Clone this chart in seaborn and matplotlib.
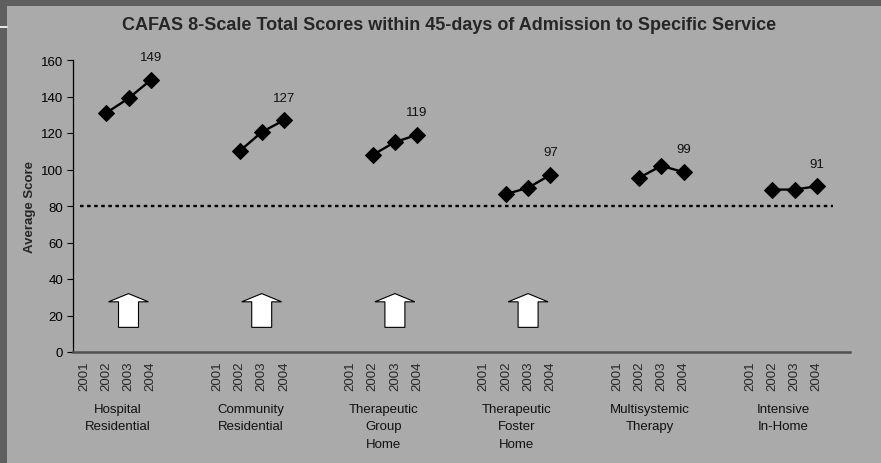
import pandas as pd
import matplotlib

matplotlib.use("Agg")
import matplotlib.pyplot as plt
import matplotlib.patches as mpatches
import seaborn as sns

# Services (x-axis groups) and years within each group
services = [
    "Hospital\nResidential",
    "Community\nResidential",
    "Therapeutic\nGroup\nHome",
    "Therapeutic\nFoster\nHome",
    "Multisystemic\nTherapy",
    "Intensive\nIn-Home",
]
years = ["2001", "2002", "2003", "2004"]

# Average scores per service, 2002-2004 (no 2001 data)
hospital = [131, 139, 149]
community = [110, 120.5, 127]
group_home = [108, 115, 119]
foster_home = [86.5, 90, 97]
multisystemic = [95.5, 102, 98.6]
in_home = [89, 89, 90.8]
score_years = ["2002", "2003", "2004"]

cutoff = 80  # dotted reference line
arrow_services = services[:4]  # services flagged with an arrow (at 2003)

sns.set_style("white")
plt.rcParams["font.family"] = ["Liberation Sans", "DejaVu Sans"]

panel = "#aaaaaa"
fs = 9.5
slots_per_group = len(years) + 2
n_slots = slots_per_group * len(services) - 1

rows = []
for i, (svc, vals) in enumerate(
    zip(services, [hospital, community, group_home, foster_home, multisystemic, in_home])
):
    for yr, v in zip(score_years, vals):
        rows.append(
            {"Service": svc, "pos": i * slots_per_group + years.index(yr), "Score": v}
        )
df = pd.DataFrame(rows)

fig = plt.figure(figsize=(8.81, 4.64), dpi=100, facecolor="#5f5f5f")
fig.patches.append(
    mpatches.Rectangle((7 / 881, 0), 1, 1 - 7 / 464, transform=fig.transFigure,
                       facecolor=panel, edgecolor="none", zorder=-5)
)
fig.lines.append(
    plt.Line2D([0, 7 / 881], [1 - 28 / 464] * 2, transform=fig.transFigure,
               color="white", lw=1.2, zorder=-4)
)

ax = fig.add_axes([73 / 881, 111 / 464, 777 / 881, 292 / 464])
ax.set_facecolor(panel)

ax.axhline(cutoff, xmin=0.3 / n_slots, xmax=(n_slots - 0.75) / n_slots,
           color="black", lw=1.7, ls=(0, (1.5, 1.5)), zorder=1)

sns.lineplot(
    data=df, x="pos", y="Score", units="Service", estimator=None,
    color="black", lw=1.7, marker="D", markersize=8.5, markeredgecolor="black",
    ax=ax, zorder=3,
)

# value label over the 2004 point of each service
for svc, grp in df.groupby("Service", sort=False):
    last = grp.iloc[-1]
    ax.annotate(f"{last['Score']:.0f}", (last["pos"], last["Score"]),
                xytext=(0, 12), textcoords="offset points", ha="center",
                va="bottom", fontsize=fs, color="#111111")

# white block arrows
for svc in arrow_services:
    x = services.index(svc) * slots_per_group + years.index("2003")
    ax.add_patch(mpatches.FancyArrow(
        x, 13.5, 0, 18.5, width=0.9, head_width=1.8, head_length=4.5,
        length_includes_head=True, facecolor="white", edgecolor="black",
        lw=0.8, zorder=2))

ax.set_xlim(-0.5, n_slots - 0.5)
ax.set_ylim(0, 160)
ax.set_yticks(range(0, 161, 20))
ax.tick_params(axis="y", length=4, width=0.8, direction="out", labelsize=fs,
               colors="black", left=True, pad=3)

tick_pos, tick_lab = [], []
for i in range(len(services)):
    for j, yr in enumerate(years):
        tick_pos.append(i * slots_per_group + j)
        tick_lab.append(yr)
ax.set_xticks(tick_pos)
ax.set_xticklabels(tick_lab, rotation=90, fontsize=fs)
ax.tick_params(axis="x", length=0, pad=6)

for i, svc in enumerate(services):
    ax.text(i * slots_per_group + 1.5, -0.175, svc, transform=ax.get_xaxis_transform(),
            ha="center", va="top", fontsize=fs, linespacing=1.6, color="#111111")

ax.set_xlabel("")
ax.set_ylabel("Average Score", fontsize=9.5, fontweight="bold", labelpad=3.5)

sns.despine(ax=ax)
ax.spines["left"].set_color("black")
ax.spines["left"].set_linewidth(0.9)
ax.spines["bottom"].set_color("#505050")
ax.spines["bottom"].set_linewidth(1.8)

fig.text(449 / 881, 1 - 25 / 464,
         "CAFAS 8-Scale Total Scores within 45-days of Admission to Specific Service",
         ha="center", va="center", fontsize=13, fontweight="bold")

fig.savefig("out.png", dpi=100, facecolor=fig.get_facecolor())
